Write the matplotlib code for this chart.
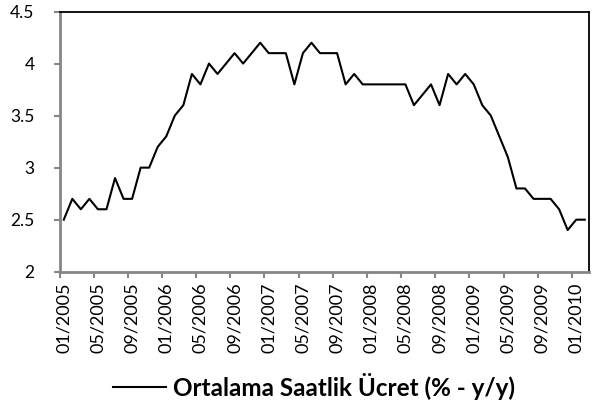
import numpy as np
import matplotlib.pyplot as plt

# monthly series, 01/2005 .. 02/2010
values = [2.5, 2.7, 2.6, 2.7, 2.6, 2.6, 2.9, 2.7, 2.7, 3.0, 3.0, 3.2,
          3.3, 3.5, 3.6, 3.9, 3.8, 4.0, 3.9, 4.0, 4.1, 4.0, 4.1, 4.2,
          4.1, 4.1, 4.1, 3.8, 4.1, 4.2, 4.1, 4.1, 4.1, 3.8, 3.9, 3.8,
          3.8, 3.8, 3.8, 3.8, 3.8, 3.6, 3.7, 3.8, 3.6, 3.9, 3.8, 3.9,
          3.8, 3.6, 3.5, 3.3, 3.1, 2.8, 2.8, 2.7, 2.7, 2.7, 2.6, 2.4,
          2.5, 2.5]
tick_labels = ['01/2005', '05/2005', '09/2005', '01/2006', '05/2006', '09/2006',
               '01/2007', '05/2007', '09/2007', '01/2008', '05/2008', '09/2008',
               '01/2009', '05/2009', '09/2009', '01/2010']
y_ticks = [2, 2.5, 3, 3.5, 4, 4.5]
y_tick_labels = ['2', '2.5', '3', '3.5', '4', '4.5']
series_name = 'Ortalama Saatlik Ücret (% - y/y)'

plt.rcParams['font.family'] = ['Lato', 'DejaVu Sans']

fig = plt.figure(figsize=(5.98, 4.07), dpi=100)
ax = fig.add_axes([0.0995, 0.3324, 0.8855, 0.6393])

x = np.arange(len(values))
ax.plot(x, values, color='black', linewidth=1.5, label=series_name)

ax.set_xlim(-0.5, len(values) - 0.5)
ax.set_ylim(2, 4.5)

grey = '#868686'
# category labels every 4 months, tick marks on the category boundaries
ax.set_xticks(x[::4], tick_labels, rotation=90, fontsize=13)
ax.tick_params(axis='x', which='major', length=0, pad=8)
ax.set_xticks(np.arange(-0.5, len(values), 4), minor=True)
ax.tick_params(axis='x', which='minor', length=4, width=1.5, color=grey, direction='out')

ax.set_yticks(y_ticks, y_tick_labels, fontsize=12.5)
ax.tick_params(axis='y', length=4, width=1.5, color=grey, direction='out', pad=14)

for side in ['left', 'bottom']:
    ax.spines[side].set_color(grey)
    ax.spines[side].set_linewidth(2)
for side in ['top', 'right']:
    ax.spines[side].set_color('black')
    ax.spines[side].set_linewidth(1.3)

fig.legend(loc='center', bbox_to_anchor=(0.525, 1 - 386 / 407), frameon=False,
           prop={'weight': 'bold', 'size': 17.5}, handlelength=2.2, handletextpad=0.3)

fig.savefig('out.png', dpi=100)
